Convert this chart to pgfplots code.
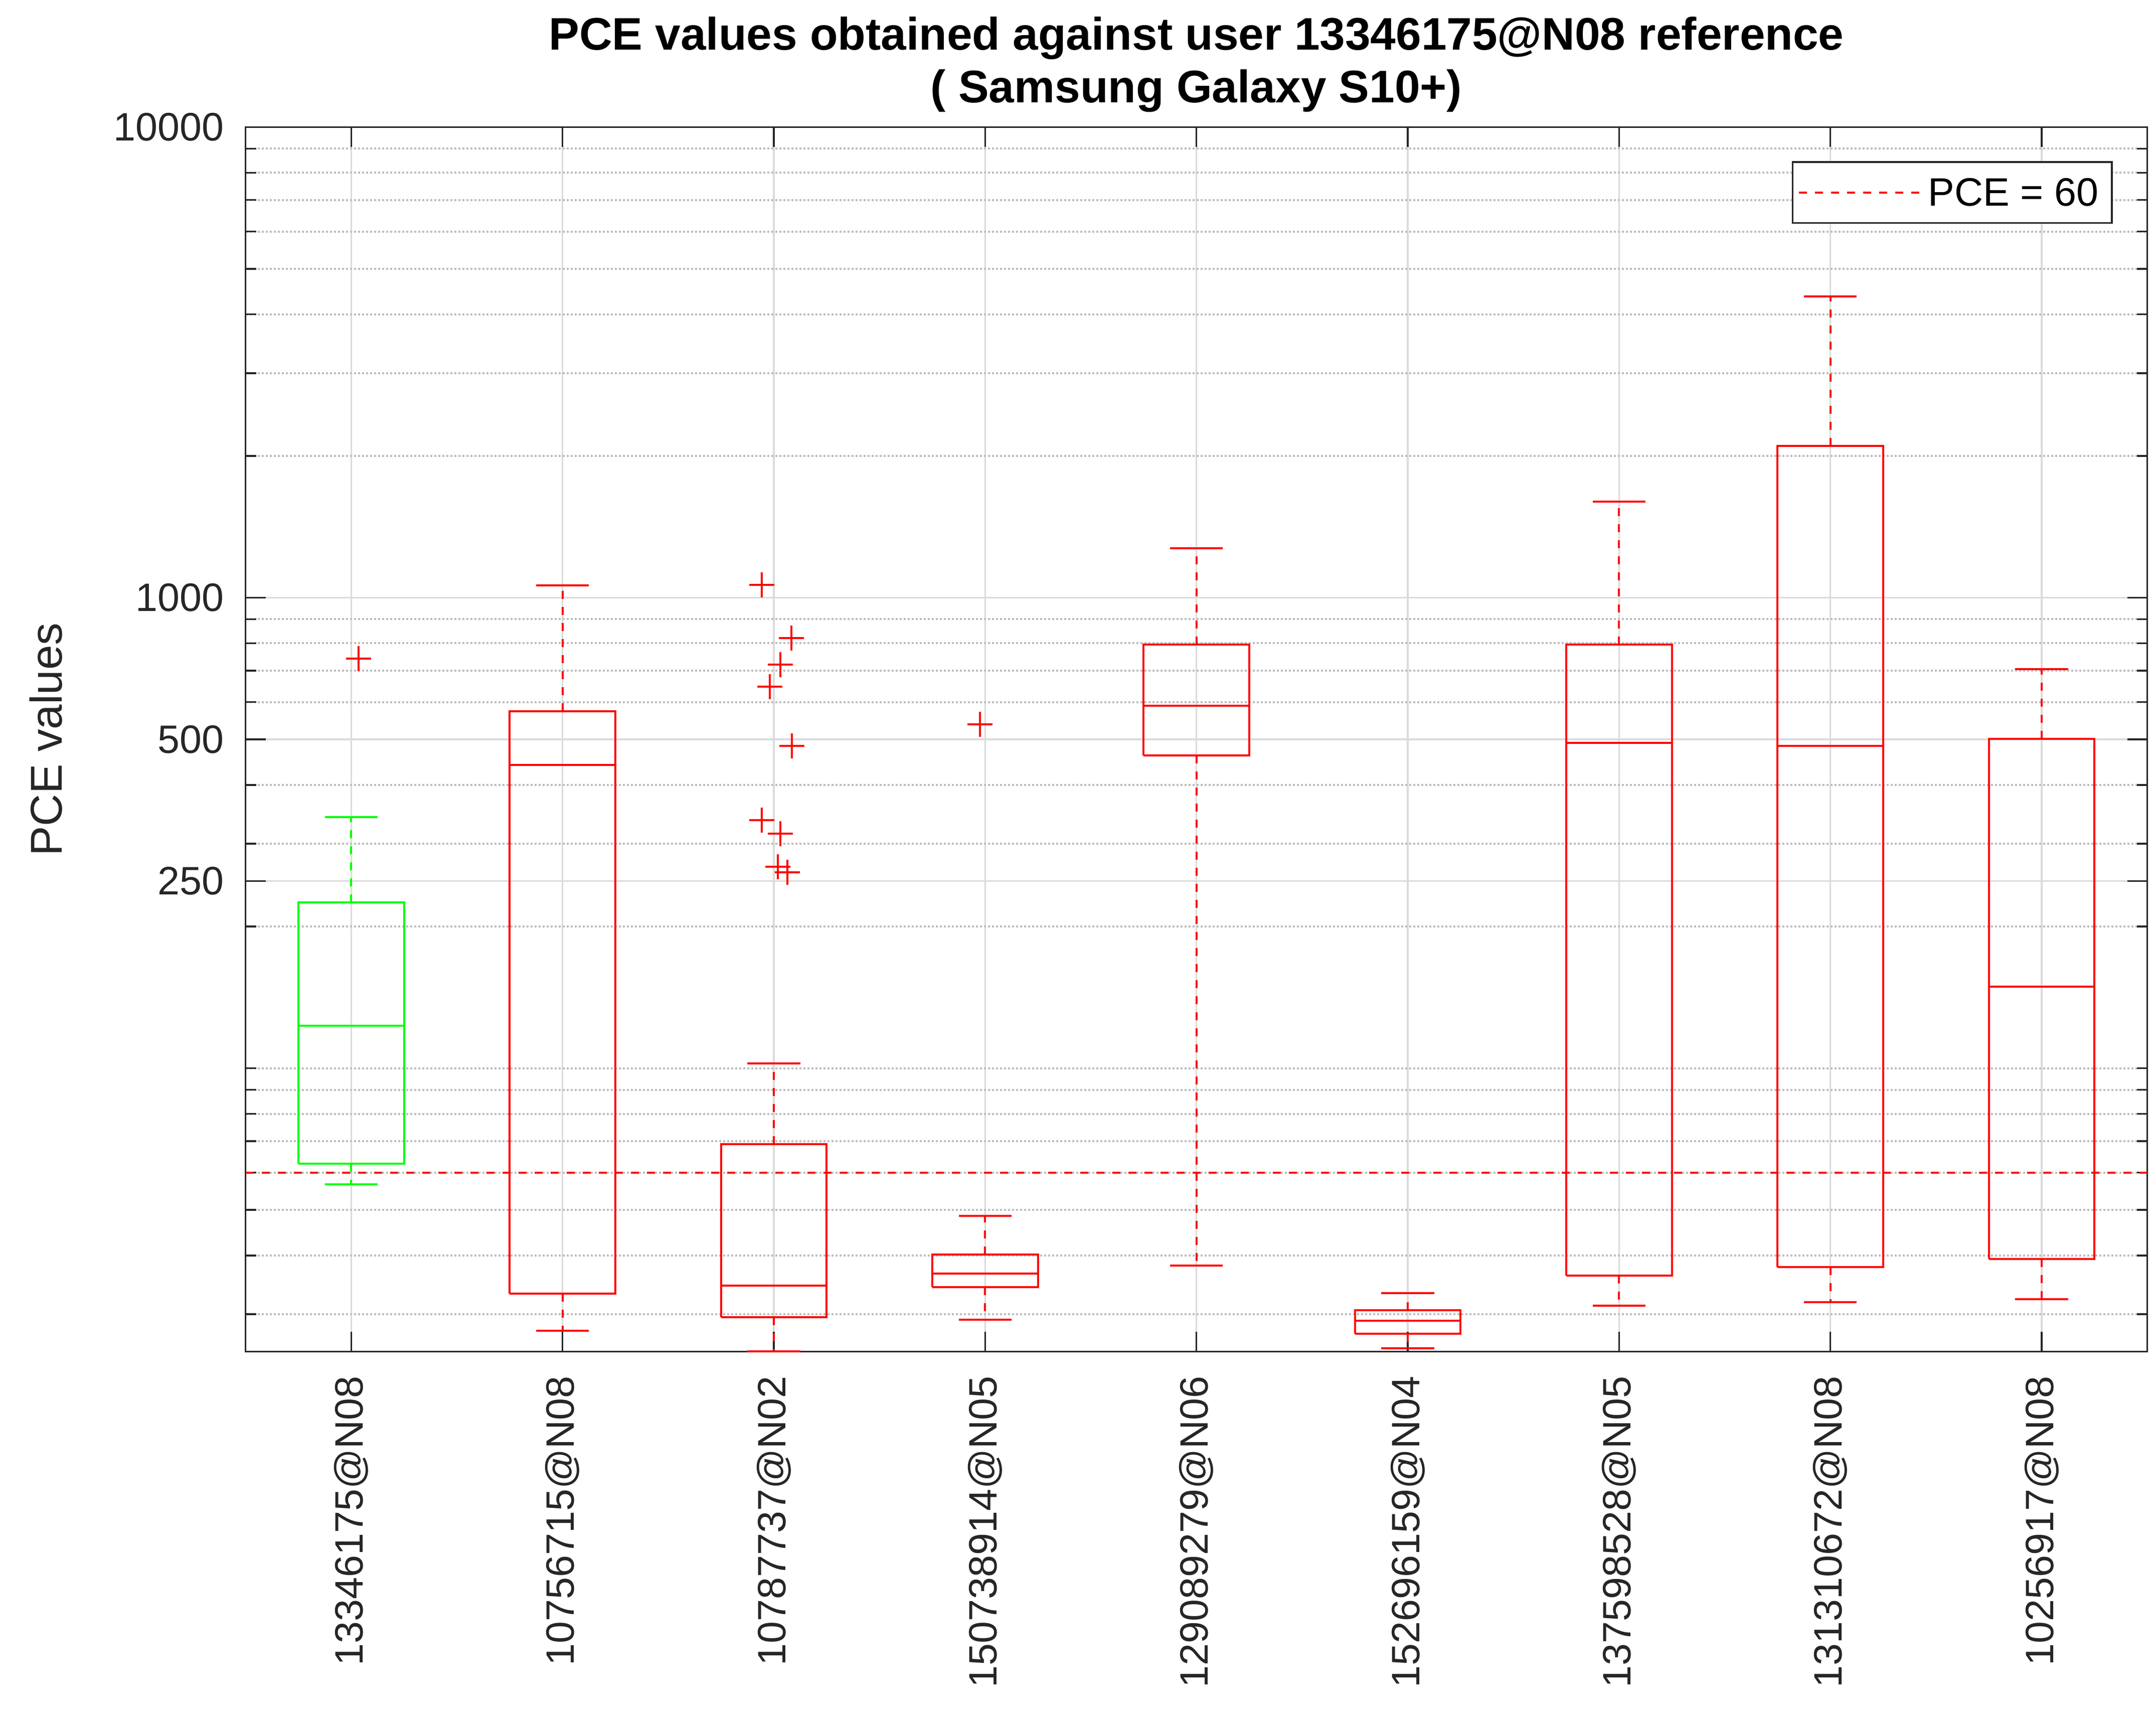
\documentclass[border=0pt]{standalone}
\usepackage{pgfplots}
\pgfplotsset{compat=1.18}
\usepackage{fontspec}
\setmainfont{Liberation Sans}
\definecolor{axgray}{rgb}{0.15,0.15,0.15}
\definecolor{mgrid}{rgb}{0.86,0.86,0.86}
\definecolor{ngrid}{rgb}{0.74,0.74,0.74}
\definecolor{mred}{rgb}{1,0,0}
\definecolor{mgreen}{rgb}{0,1,0}
\pgfplotsset{
  bsolid/.style={line width=0.4pt, mark=none, forget plot, line join=miter},
  bdash/.style={line width=0.4pt, mark=none, forget plot, dash pattern=on 1.6pt off 1.6pt},
  pceleg/.style={legend image code/.code={\draw[##1] (0pt,0pt) -- (24pt,0pt);}},
}
\begin{document}
\begin{tikzpicture}
\begin{axis}[
  scale only axis,
  width=379.2pt, height=244.1pt,
  xmin=0.5, xmax=9.5,
  ymode=log, ymin=25, ymax=10000,
  clip=false,
  unbounded coords=jump,
  xtick={1,2,3,4,5,6,7,8,9},
  xticklabels={13346175@N08,10756715@N08,10787737@N02,150738914@N05,129089279@N06,152696159@N04,137598528@N05,131310672@N08,10256917@N08},
  ytick={250,500,1000,10000},
  yticklabels={250,500,1000,10000},
  minor ytick={30,40,50,60,70,80,90,100,200,300,400,600,700,800,900,2000,3000,4000,5000,6000,7000,8000,9000},
  grid=both,
  major grid style={mgrid, line width=0.35pt},
  minor grid style={ngrid, line width=0.4pt, dash pattern=on 0.4pt off 0.4pt},
  tick align=inside,
  xtick pos=both, ytick pos=both,
  major tick length=4pt,
  minor tick length=2.1pt,
  every tick/.style={axgray, line width=0.35pt},
  axis line style={axgray, line width=0.35pt},
  ticklabel style={font=\fontsize{7.9}{9}\selectfont, text=axgray},
  xticklabel style={rotate=90, anchor=east},
  xticklabel shift=1.4pt,
  yticklabel shift=0.8pt,
  ylabel={PCE values},
  ylabel style={font=\fontsize{8.9}{10}\selectfont, text=axgray, at={(axis description cs:-0.105,0.5)}, anchor=center},
  title={PCE values obtained against user 13346175@N08 reference\\( Samsung Galaxy S10+)},
  title style={font=\bfseries\fontsize{9.1}{10.5}\selectfont, align=center, text=black, yshift=-6.6pt},
  legend style={at={(axis description cs:1,1)}, anchor=north east, xshift=-6.9pt, yshift=-6.8pt,
    draw=axgray, line width=0.35pt, font=\fontsize{7.9}{9}\selectfont, fill=white,
    inner xsep=1pt, inner ysep=1.6pt, nodes={inner sep=1.6pt, text depth=0.02em}},
]
% PCE = 60 reference line
\addplot[mred, line width=0.4pt, dash pattern=on 1.6pt off 1.6pt, pceleg]
  coordinates {(0.5,60) (9.5,60)};
\addlegendentry{PCE = 60}

% Box 1 (green)
\addplot[bsolid, mgreen] coordinates {(0.75,62.6) (1.25,62.6) (1.25,224.9) (0.75,224.9) (0.75,62.6) (1,nan)
  (0.75,123.1) (1.25,123.1) (1,nan) (0.875,56.7) (1.125,56.7) (1,nan) (0.875,341.9) (1.125,341.9)};
\addplot[bdash, mgreen] coordinates {(1,224.9) (1,341.9) (1,nan) (1,62.6) (1,56.7)};
% Box 2
\addplot[bsolid, mred] coordinates {(1.75,33.2) (2.25,33.2) (2.25,573) (1.75,573) (1.75,33.2) (2,nan)
  (1.75,440.8) (2.25,440.8) (2,nan) (1.875,27.7) (2.125,27.7) (2,nan) (1.875,1063) (2.125,1063)};
\addplot[bdash, mred] coordinates {(2,573) (2,1063) (2,nan) (2,33.2) (2,27.7)};
% Box 3
\addplot[bsolid, mred] coordinates {(2.75,29.6) (3.25,29.6) (3.25,69.0) (2.75,69.0) (2.75,29.6) (3,nan)
  (2.75,34.5) (3.25,34.5) (3,nan) (2.875,25.0) (3.125,25.0) (3,nan) (2.875,102.4) (3.125,102.4)};
\addplot[bdash, mred] coordinates {(3,69.0) (3,102.4) (3,nan) (3,29.6) (3,25.0)};
% Box 4
\addplot[bsolid, mred] coordinates {(3.75,34.3) (4.25,34.3) (4.25,40.2) (3.75,40.2) (3.75,34.3) (4,nan)
  (3.75,36.6) (4.25,36.6) (4,nan) (3.875,29.2) (4.125,29.2) (4,nan) (3.875,48.5) (4.125,48.5)};
\addplot[bdash, mred] coordinates {(4,40.2) (4,48.5) (4,nan) (4,34.3) (4,29.2)};
% Box 5
\addplot[bsolid, mred] coordinates {(4.75,461.9) (5.25,461.9) (5.25,795.6) (4.75,795.6) (4.75,461.9) (5,nan)
  (4.75,588.9) (5.25,588.9) (5,nan) (4.875,38.1) (5.125,38.1) (5,nan) (4.875,1272) (5.125,1272)};
\addplot[bdash, mred] coordinates {(5,795.6) (5,1272) (5,nan) (5,461.9) (5,38.1)};
% Box 6
\addplot[bsolid, mred] coordinates {(5.75,27.3) (6.25,27.3) (6.25,30.6) (5.75,30.6) (5.75,27.3) (6,nan)
  (5.75,29.1) (6.25,29.1) (6,nan) (5.875,25.4) (6.125,25.4) (6,nan) (5.875,33.3) (6.125,33.3)};
\addplot[bdash, mred] coordinates {(6,30.6) (6,33.3) (6,nan) (6,27.3) (6,25.4)};
% Box 7
\addplot[bsolid, mred] coordinates {(6.75,36.3) (7.25,36.3) (7.25,795.6) (6.75,795.6) (6.75,36.3) (7,nan)
  (6.75,491.8) (7.25,491.8) (7,nan) (6.875,31.3) (7.125,31.3) (7,nan) (6.875,1602) (7.125,1602)};
\addplot[bdash, mred] coordinates {(7,795.6) (7,1602) (7,nan) (7,36.3) (7,31.3)};
% Box 8
\addplot[bsolid, mred] coordinates {(7.75,37.8) (8.25,37.8) (8.25,2100) (7.75,2100) (7.75,37.8) (8,nan)
  (7.75,484.2) (8.25,484.2) (8,nan) (7.875,31.8) (8.125,31.8) (8,nan) (7.875,4364) (8.125,4364)};
\addplot[bdash, mred] coordinates {(8,2100) (8,4364) (8,nan) (8,37.8) (8,31.8)};
% Box 9
\addplot[bsolid, mred] coordinates {(8.75,39.3) (9.25,39.3) (9.25,501.6) (8.75,501.6) (8.75,39.3) (9,nan)
  (8.75,149.1) (9.25,149.1) (9,nan) (8.875,32.3) (9.125,32.3) (9,nan) (8.875,705) (9.125,705)};
\addplot[bdash, mred] coordinates {(9,501.6) (9,705) (9,nan) (9,39.3) (9,32.3)};

% outliers
\addplot[only marks, mark=+, mark size=2.5pt, mred, mark options={line width=0.4pt, solid}, forget plot]
  coordinates {(1.036,742) (2.943,1065) (3.083,821) (3.032,720) (2.981,647) (3.085,484)
  (2.943,337) (3.032,315) (3.019,268) (3.064,261) (3.976,538)};
\end{axis}
\pgfresetboundingbox
\path (current axis.south west) ++(-48.96pt,-73.36pt) rectangle ++(429.9pt,342.8pt);
\end{tikzpicture}
\end{document}
